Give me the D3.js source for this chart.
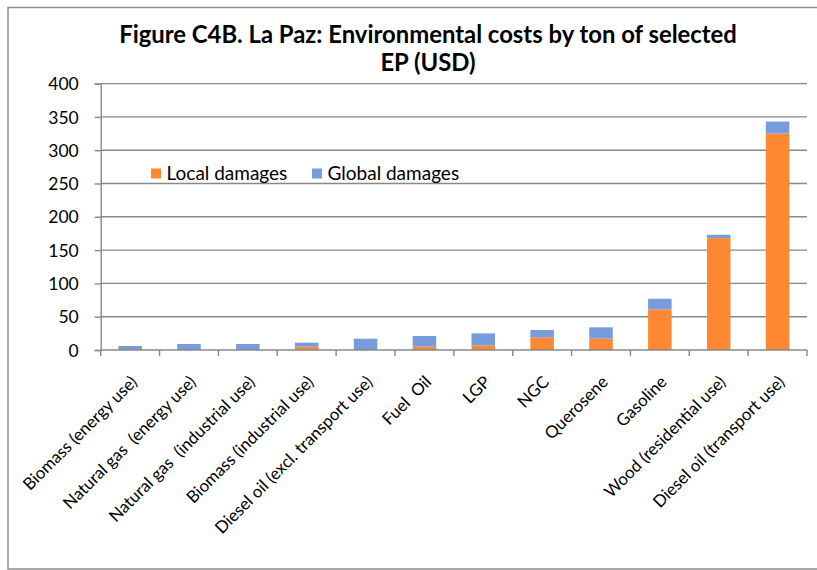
<!DOCTYPE html>
<html>
<head>
<meta charset="utf-8">
<script src="https://cdn.jsdelivr.net/npm/d3@7"></script>
<style>
  html, body { margin: 0; padding: 0; background: #fff; }
  svg { display: block; }
  text { font-family: Lato, "Open Sans", sans-serif; fill: #000; }
</style>
</head>
<body>
<svg id="chart" width="817" height="570"></svg>
<script>
const categories = [
  "Biomass (energy use)",
  "Natural gas  (energy use)",
  "Natural gas  (industrial use)",
  "Biomass (industrial use)",
  "Diesel oil (excl. transport use)",
  "Fuel  Oil",
  "LGP",
  "NGC",
  "Querosene",
  "Gasoline",
  "Wood (residential use)",
  "Diesel oil (transport use)"
];
const localDamages  = [0, 0, 0, 5, 0, 5, 7, 19, 17, 61, 168, 325];
const globalDamages = [6, 9, 9, 6, 17, 16, 18, 11, 17, 16, 5, 18];
const yTicks = [0, 50, 100, 150, 200, 250, 300, 350, 400];
const seriesNames = ["Local damages", "Global damages"];
const seriesColors = ["#FF8833", "#789CDB"];
const titleLines = ["Figure C4B. La Paz: Environmental costs by ton of selected", "EP (USD)"];

const svg = d3.select("#chart");
const pLeft = 100.7, pRight = 807, pTop = 83.6, pBottom = 350;

// chart border
svg.append("rect")
  .attr("x", 8).attr("y", 7.5)
  .attr("width", 830).attr("height", 561.5)
  .attr("fill", "none").attr("stroke", "#8c8c8c").attr("stroke-width", 1.5);

const x = d3.scaleBand().domain(categories).range([pLeft, pRight]).paddingInner(0.6).paddingOuter(0.3);
const xb = d3.scaleBand().domain(categories).range([pLeft, pRight]);
const y = d3.scaleLinear().domain([0, 400]).range([pBottom, pTop]);

// gridlines
svg.append("g").selectAll("line").data(yTicks.filter(d => d > 0)).join("line")
  .attr("x1", pLeft).attr("x2", pRight)
  .attr("y1", d => y(d)).attr("y2", d => y(d))
  .attr("stroke", "#888").attr("stroke-width", 1.4);

// stacked bars
const rows = categories.map((c, i) => ({cat: c, local: localDamages[i], global: globalDamages[i]}));
const stack = d3.stack().keys(["local", "global"])(rows);
svg.append("g").selectAll("g").data(stack).join("g")
  .attr("fill", (d, i) => seriesColors[i])
  .selectAll("rect").data(d => d).join("rect")
  .attr("x", d => x(d.data.cat))
  .attr("width", x.bandwidth())
  .attr("y", d => y(d[1]))
  .attr("height", d => y(d[0]) - y(d[1]));

// y axis
const yAxis = d3.axisLeft(y).tickValues(yTicks).tickSize(6).tickPadding(16);
const gy = svg.append("g").attr("transform", `translate(${pLeft},0)`).call(yAxis);
gy.select(".domain").attr("stroke", "#888").attr("stroke-width", 1.4);
gy.selectAll(".tick line").attr("stroke", "#888").attr("stroke-width", 1.4);
gy.selectAll(".tick text").style("font-family", "Lato, sans-serif").style("font-size", "17.5px").attr("fill", "#000").attr("dy", "0.35em");

// x axis baseline & ticks
const gx = svg.append("g");
gx.append("line").attr("x1", pLeft).attr("x2", pRight).attr("y1", pBottom).attr("y2", pBottom)
  .attr("stroke", "#888").attr("stroke-width", 1.4);
const bounds = categories.map(c => xb(c)).concat([pRight]);
gx.selectAll("line.tk").data(bounds).join("line").attr("class", "tk")
  .attr("x1", d => d).attr("x2", d => d).attr("y1", pBottom).attr("y2", pBottom + 6)
  .attr("stroke", "#888").attr("stroke-width", 1.4);

// x labels rotated
gx.selectAll("text").data(categories).join("text")
  .attr("transform", d => `translate(${xb(d) + xb.bandwidth() / 2 + 8},${pBottom + 33}) rotate(-45)`)
  .attr("text-anchor", "end")
  .style("white-space", "pre")
  .style("font-size", "16.8px")
  .text(d => d);

// title
const t1 = svg.append("text").attr("x", 428).attr("y", 43).attr("text-anchor", "middle")
  .style("font-weight", "bold").style("font-size", "20px").text(titleLines[0]);
const len = t1.node().getComputedTextLength();
const fs = 20 * 618 / len;
t1.style("font-size", fs + "px");
svg.append("text").attr("x", 428).attr("y", 71).attr("text-anchor", "middle")
  .style("font-weight", "bold").style("font-size", fs + "px").text(titleLines[1]);

// legend
const legX = [151, 312];
const lg = svg.append("g").selectAll("g").data(seriesNames).join("g")
  .attr("transform", (d, i) => `translate(${legX[i]},168.5)`);
lg.append("rect").attr("width", 10).attr("height", 10).attr("fill", (d, i) => seriesColors[i]);
lg.append("text").attr("x", 15.5).attr("y", 11.5).style("font-size", "19px").text(d => d);
</script>
</body>
</html>
